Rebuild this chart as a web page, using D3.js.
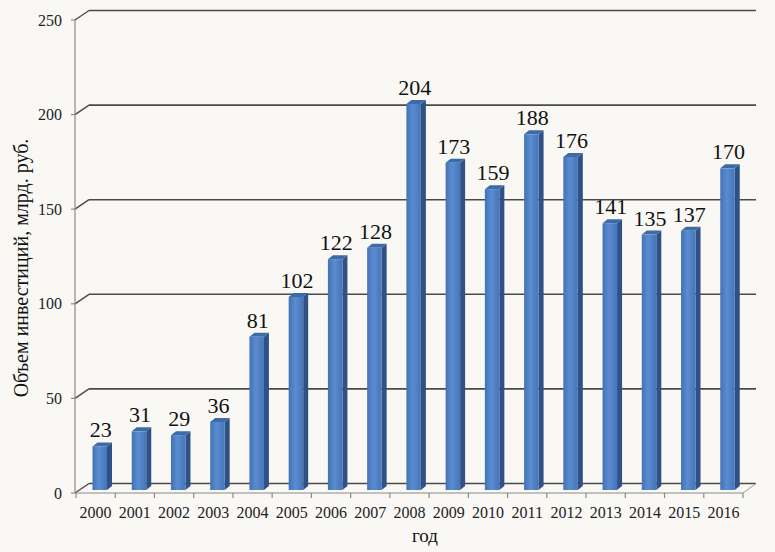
<!DOCTYPE html>
<html><head><meta charset="utf-8">
<script src="https://cdn.jsdelivr.net/npm/d3@7"></script>
<style>
html,body{margin:0;padding:0;background:#f9f8f4;}
svg{display:block;}
</style></head>
<body>
<svg id="c" width="775" height="552"></svg>
<script>
const years = ["2000","2001","2002","2003","2004","2005","2006","2007","2008","2009","2010","2011","2012","2013","2014","2015","2016"];
const values = [23,31,29,36,81,102,122,128,204,173,159,188,176,141,135,137,170];
const yTicks = [0,50,100,150,200,250];
const yTitle = "Объем инвестиций, млрд. руб.";
const xTitle = "год";

const svg = d3.select("#c");
const W = 775, H = 552;
svg.append("rect").attr("width",W).attr("height",H).attr("fill","#f9f8f4");

const DX = 13, DY = -9.5;
const x = d3.scaleBand().domain(years).range([76, 743]).padding(0);
const yFront = d3.scaleLinear().domain([0,250]).range([493, 20]);
const yBar = d3.scaleLinear().domain([0,250]).range([490, 17]);

const defs = svg.append("defs");
const g1 = defs.append("linearGradient").attr("id","front").attr("x1","0").attr("x2","1").attr("y1","0").attr("y2","0");
g1.append("stop").attr("offset","0").attr("stop-color","#4373b5");
g1.append("stop").attr("offset","0.45").attr("stop-color","#5a8cd0");
g1.append("stop").attr("offset","1").attr("stop-color","#4675b8");

const grid = svg.append("g");
yTicks.forEach(t => {
  const yf = yFront(t);
  grid.append("line").attr("x1", 76+DX).attr("x2", 743+DX)
    .attr("y1", yf+DY).attr("y2", yf+DY)
    .attr("stroke","#4a4a4a").attr("stroke-width",1.6);
  grid.append("line").attr("x1", 75).attr("x2", 76+DX)
    .attr("y1", yf).attr("y2", yf+DY)
    .attr("stroke","#4a4a4a").attr("stroke-width",1.4);
});
grid.append("line").attr("x1",743).attr("y1",yFront(0)).attr("x2",743+DX).attr("y2",yFront(0)+DY)
  .attr("stroke","#9a9a9a").attr("stroke-width",1);

const font = "Liberation Serif, Times New Roman, serif";
const bw = 14.5, bd = 5, bt = 4, off = 16.5;
const bars = svg.append("g");
years.forEach((yr,i) => {
  const v = values[i];
  const x0 = x(yr) + off, x1 = x0 + bw;
  const yb = yBar(0), yt = yBar(v);
  bars.append("path").attr("d", `M${x1},${yt} L${x1+bd},${yt-bt} L${x1+bd},${yb-bt} L${x1},${yb} Z`).attr("fill","#2f5186");
  bars.append("path").attr("d", `M${x0},${yt} L${x0+bd},${yt-bt} L${x1+bd},${yt-bt} L${x1},${yt} Z`).attr("fill","#3d6aa8");
  bars.append("rect").attr("x",x0).attr("y",yt).attr("width",bw).attr("height",yb-yt).attr("fill","url(#front)");
  bars.append("text").attr("x", x0 + bw/2 + 1).attr("y", yt - 9)
    .attr("text-anchor","middle").attr("font-family",font)
    .attr("font-size",22).attr("fill","#111").text(v);
});

const axG = svg.append("g").attr("stroke","#8a8a8a").attr("stroke-width",1.2);
axG.append("line").attr("x1",75).attr("x2",75).attr("y1",yFront(250)).attr("y2",yFront(0));
axG.append("line").attr("x1",75).attr("x2",743).attr("y1",yFront(0)).attr("y2",yFront(0));
yTicks.forEach(t => {
  axG.append("line").attr("x1",71).attr("x2",75).attr("y1",yFront(t)).attr("y2",yFront(t));
});
years.forEach(yr => {
  axG.append("line").attr("x1",x(yr)).attr("x2",x(yr)).attr("y1",yFront(0)).attr("y2",yFront(0)+5);
});
axG.append("line").attr("x1",743).attr("x2",743).attr("y1",yFront(0)).attr("y2",yFront(0)+5);

svg.append("g").selectAll("text").data(yTicks).join("text")
  .attr("x",62).attr("y",d=>yFront(d)+5.5).attr("text-anchor","end")
  .attr("font-family",font).attr("font-size",16).attr("fill","#222").text(d=>d);
svg.append("g").selectAll("text").data(years).join("text")
  .attr("x",d=>x(d)+x.bandwidth()/2).attr("y",518).attr("text-anchor","middle")
  .attr("font-family",font).attr("font-size",16).attr("fill","#222").text(d=>d);

svg.append("text").attr("x",425).attr("y",542).attr("text-anchor","middle")
  .attr("font-family",font).attr("font-size",19).attr("fill","#111").text(xTitle);
svg.append("text").attr("transform","translate(28,268) rotate(-90)").attr("text-anchor","middle")
  .attr("font-family",font).attr("font-size",20).attr("fill","#111").text(yTitle);
</script>
</body></html>
